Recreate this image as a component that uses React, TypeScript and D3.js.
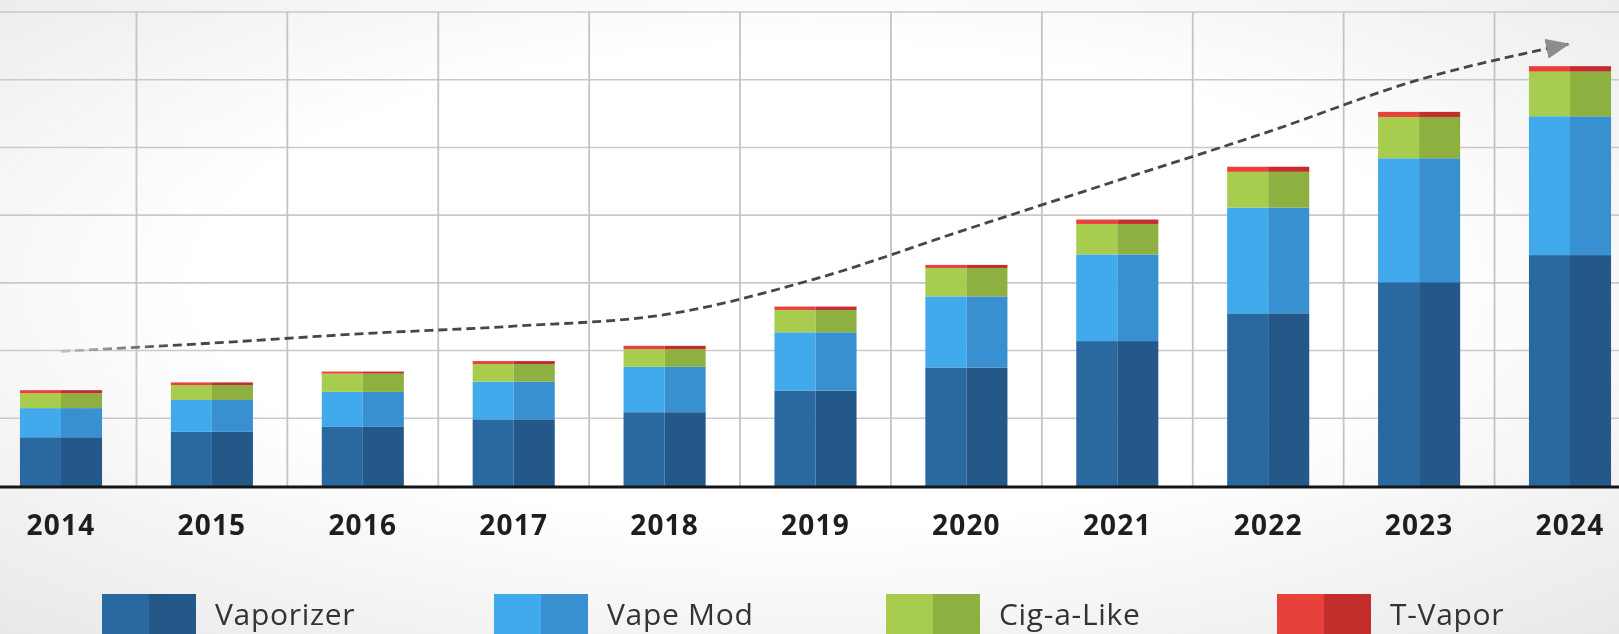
import React, { useEffect, useRef } from "react";
import * as d3 from "d3";

const years = ["2014", "2015", "2016", "2017", "2018", "2019", "2020", "2021", "2022", "2023", "2024"];
const vaporizer = [7.2, 8.0, 8.8, 9.85, 10.9, 14.1, 17.5, 21.4, 25.5, 30.1, 34.1];
const vapeMod = [4.3, 4.7, 5.1, 5.55, 6.7, 8.6, 10.5, 12.8, 15.6, 18.3, 20.5];
const cigALike = [2.2, 2.2, 2.7, 2.6, 2.6, 3.3, 4.2, 4.5, 5.3, 6.1, 6.6];
const tVapor = [0.45, 0.4, 0.3, 0.45, 0.5, 0.5, 0.45, 0.65, 0.75, 0.75, 0.8];
const trend = [19.9, 21.1, 22.5, 23.6, 25.3, 30.6, 37.9, 45.1, 52.3, 60.0, 65.3];

const seriesNames = ["Vaporizer", "Vape Mod", "Cig-a-Like", "T-Vapor"];
const lightColors = ["#2a68a0", "#40aaec", "#a8cd4e", "#e8413c"];
const darkColors = ["#235889", "#3990d0", "#8eb040", "#c22e2c"];

const W = 1619;
const H = 634;

const App: React.FC = () => {
  const svgRef = useRef<SVGSVGElement>(null);

  useEffect(() => {
    if (!svgRef.current) return;
    const svg = d3.select(svgRef.current);
    svg.selectAll("*").remove();

    const step = 150.9;
    const x0 = 61 - step / 2;
    const x = d3
      .scaleBand<string>()
      .domain(years)
      .range([x0, x0 + step * years.length])
      .paddingInner(0.456)
      .paddingOuter(0.228);

    const y = d3.scaleLinear().domain([0, 70]).range([486, 12]);

    const defs = svg.append("defs");
    const bg = defs
      .append("radialGradient")
      .attr("id", "bg")
      .attr("cx", "50%")
      .attr("cy", "45%")
      .attr("r", "75%");
    bg.append("stop").attr("offset", "0.5").attr("stop-color", "#ffffff");
    bg.append("stop").attr("offset", "1").attr("stop-color", "#e8e8e8");

    const fade = defs
      .append("linearGradient")
      .attr("id", "fade")
      .attr("gradientUnits", "userSpaceOnUse")
      .attr("x1", 60)
      .attr("x2", 175)
      .attr("y1", 0)
      .attr("y2", 0);
    fade.append("stop").attr("offset", "0").attr("stop-color", "#c4c4c4");
    fade.append("stop").attr("offset", "1").attr("stop-color", "#474747");

    defs
      .append("marker")
      .attr("id", "arrow")
      .attr("markerUnits", "userSpaceOnUse")
      .attr("viewBox", "0 0 24 20")
      .attr("refX", 24)
      .attr("refY", 10)
      .attr("markerWidth", 24)
      .attr("markerHeight", 20)
      .attr("orient", "auto")
      .append("path")
      .attr("d", "M0,0 L24,10 L0,20 Z")
      .attr("fill", "#8c8c8c");

    svg.append("rect").attr("width", W).attr("height", H).attr("fill", "url(#bg)");

    // grid
    const grid = svg.append("g");
    grid
      .selectAll("line.h")
      .data(y.ticks(7).filter((t) => t > 0))
      .join("line")
      .attr("x1", 0)
      .attr("x2", W)
      .attr("y1", (d) => y(d))
      .attr("y2", (d) => y(d))
      .attr("stroke", "#c9c9c9")
      .attr("stroke-width", 1.6);

    grid
      .selectAll("line.v")
      .data(years.slice(1))
      .join("line")
      .attr("x1", (d) => (x(d) as number) - (step - x.bandwidth()) / 2)
      .attr("x2", (d) => (x(d) as number) - (step - x.bandwidth()) / 2)
      .attr("y1", y(70))
      .attr("y2", y(0))
      .attr("stroke", "#c4c4c4")
      .attr("stroke-width", 1.8);

    // stacked bars, each segment split in a light and a dark half
    const rows = years.map((yr, i) => ({
      year: yr,
      "Vaporizer": vaporizer[i],
      "Vape Mod": vapeMod[i],
      "Cig-a-Like": cigALike[i],
      "T-Vapor": tVapor[i],
    }));
    const stacked = d3.stack<any>().keys(seriesNames)(rows);
    const half = x.bandwidth() / 2;

    stacked.forEach((layer, li) => {
      const g = svg.append("g");
      g.selectAll("rect.l")
        .data(layer)
        .join("rect")
        .attr("x", (d) => x(d.data.year) as number)
        .attr("y", (d) => y(d[1]))
        .attr("width", half)
        .attr("height", (d) => y(d[0]) - y(d[1]))
        .attr("fill", lightColors[li]);
      g.selectAll("rect.r")
        .data(layer)
        .join("rect")
        .attr("x", (d) => (x(d.data.year) as number) + half)
        .attr("y", (d) => y(d[1]))
        .attr("width", half)
        .attr("height", (d) => y(d[0]) - y(d[1]))
        .attr("fill", darkColors[li]);
    });

    // baseline
    svg
      .append("line")
      .attr("x1", 0)
      .attr("x2", W)
      .attr("y1", y(0) + 1)
      .attr("y2", y(0) + 1)
      .attr("stroke", "#151515")
      .attr("stroke-width", 3);

    // trend line
    const line = d3
      .line<number>()
      .x((_, i) => (x(years[i]) as number) + half)
      .y((d) => y(d))
      .curve(d3.curveMonotoneX);

    svg
      .append("path")
      .datum(trend)
      .attr("d", line)
      .attr("fill", "none")
      .attr("stroke", "url(#fade)")
      .attr("stroke-width", 2.8)
      .attr("stroke-dasharray", "9 5")
      .attr("marker-end", "url(#arrow)");

    // x labels
    svg
      .append("g")
      .selectAll("text")
      .data(years)
      .join("text")
      .attr("x", (d) => (x(d) as number) + half)
      .attr("y", 535)
      .attr("text-anchor", "middle")
      .attr("font-family", "'Open Sans', sans-serif")
      .attr("font-weight", 700)
      .attr("font-size", 28)
      .attr("letter-spacing", 1.2)
      .attr("fill", "#1e1e1e")
      .text((d) => d);

    // legend
    const legendX = [102, 494, 886, 1277];
    const leg = svg
      .append("g")
      .selectAll("g")
      .data(seriesNames)
      .join("g")
      .attr("transform", (_, i) => `translate(${legendX[i]},594)`);
    leg
      .append("rect")
      .attr("width", 47)
      .attr("height", 50)
      .attr("fill", (_, i) => lightColors[i]);
    leg
      .append("rect")
      .attr("x", 47)
      .attr("width", 47)
      .attr("height", 50)
      .attr("fill", (_, i) => darkColors[i]);
    leg
      .append("text")
      .attr("x", 113)
      .attr("y", 31)
      .attr("font-family", "'Open Sans', sans-serif")
      .attr("font-size", 30)
      .attr("letter-spacing", 0.7)
      .attr("fill", "#333")
      .text((d) => d);
  }, []);

  return (
    <div style={{ position: "fixed", left: 0, top: 0, width: W, height: H, overflow: "hidden" }}>
      <svg ref={svgRef} width={W} height={H} style={{ display: "block" }}></svg>
    </div>
  );
};

export default App;
